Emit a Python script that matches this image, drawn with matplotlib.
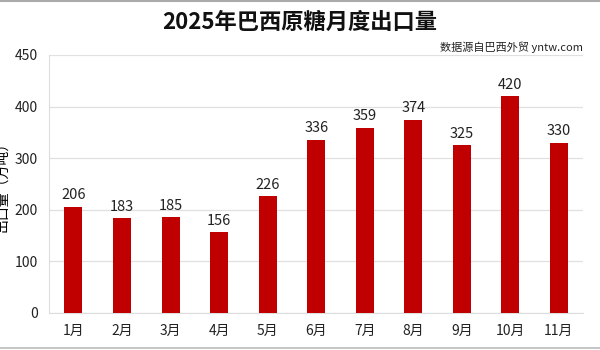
import matplotlib.pyplot as plt
from matplotlib.lines import Line2D

plt.rcParams['font.family'] = ['Noto Sans CJK SC', 'DejaVu Sans']

months = ['1月', '2月', '3月', '4月', '5月', '6月', '7月', '8月', '9月', '10月', '11月']
exports = [206, 183, 185, 156, 226, 336, 359, 374, 325, 420, 330]
# the top gridline sits at 500 but carries the label "450"
y_ticks = [0, 100, 200, 300, 400, 500]
y_tick_labels = ['0', '100', '200', '300', '400', '450']

fig = plt.figure(figsize=(6, 3.5), dpi=100)
ax = fig.add_axes([0.082, 0.106, 0.89, 0.737])

x = range(len(months))
bars = ax.bar(x, exports, width=0.37, color='#C00000', zorder=3)
for b, v in zip(bars, exports):
    ax.text(b.get_x() + b.get_width() / 2, v + 9, str(v), ha='center', va='bottom',
            fontsize=10.5, color='#222222')

ax.set_xlim(-0.5, len(months) - 0.5)
ax.set_ylim(0, 500)
ax.set_yticks(y_ticks)
ax.set_yticklabels(y_tick_labels)
ax.set_xticks(list(x))
ax.set_xticklabels(months)
ax.tick_params(axis='both', length=0, labelsize=10, colors='#222222')
ax.tick_params(axis='y', pad=8)
ax.tick_params(axis='x', pad=8)
ax.grid(axis='y', color='#e0e0e0', linewidth=0.9, zorder=0)
for s in ['top', 'right']:
    ax.spines[s].set_visible(False)
ax.spines['left'].set_color('#dddddd')
ax.spines['bottom'].set_color('#dddddd')

ax.set_ylabel('出口量（万吨）', fontsize=10, labelpad=2)
ax.yaxis.set_label_coords(-0.074, 0.5)

fig.text(0.5, 0.935, '2025年巴西原糖月度出口量', ha='center', va='center',
         fontsize=16, fontweight='bold', color='#111111')
fig.text(0.972, 0.866, '数据源自巴西外贸 yntw.com', ha='right', va='center',
         fontsize=8, color='#222222')

# thin gray frame lines at top and bottom edges
fig.add_artist(Line2D([0, 1], [0.998, 0.998], color='#aaaaaa', linewidth=1.5))
fig.add_artist(Line2D([0, 1], [0.006, 0.006], color='#bbbbbb', linewidth=1.2))

fig.savefig('out.png', dpi=100)
